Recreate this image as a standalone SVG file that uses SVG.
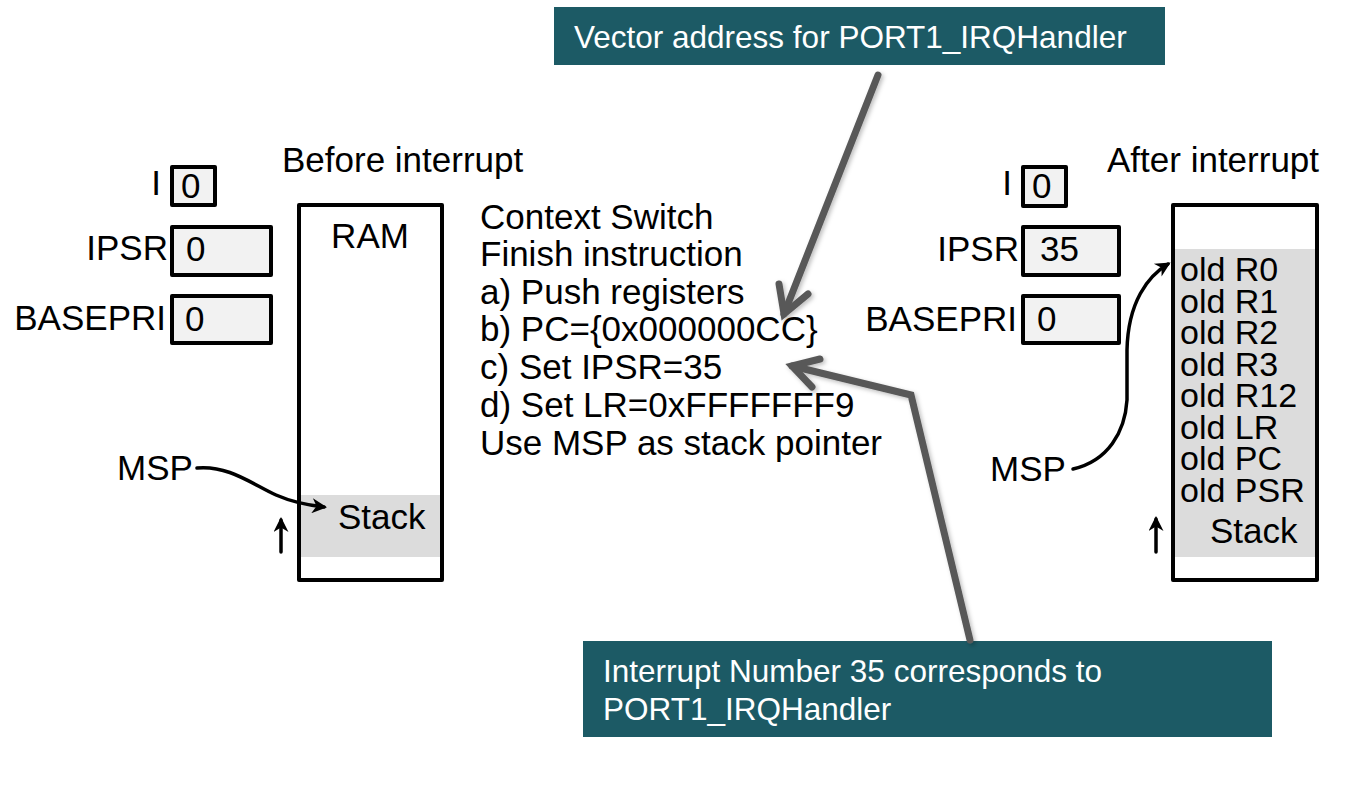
<svg xmlns="http://www.w3.org/2000/svg" width="1351" height="787" viewBox="0 0 1351 787">
  <style>
    text { font-family: "Liberation Sans", Arial, sans-serif; fill: #000; }
    .t35 { font-size: 35px; }
    .lbl { font-size: 35px; text-anchor: end; }
    .stack-row { font-size: 34px; }
    .reg { fill: #f2f2f2; stroke: #000; stroke-width: 4; stroke-linejoin: round; }
    .mem { fill: #fff; stroke: #000; stroke-width: 4; stroke-linejoin: round; }
    .stk { fill: #dcdcdc; }
    .ptr { fill: none; stroke: #000; stroke-width: 3.5; stroke-linecap: round; }
    .callout { fill: #1c5a65; }
    .ctext { font-size: 31.5px; fill: #fff; }
    .big { fill: none; stroke: #595959; stroke-width: 7; stroke-linecap: round; stroke-linejoin: miter; }
  </style>
  <defs>
    <!-- notched black arrowhead for stack pointers -->
    <marker id="tipS" viewBox="0 0 10 10" refX="8" refY="5" markerWidth="17" markerHeight="15" orient="auto" markerUnits="userSpaceOnUse">
      <path d="M0,0 L10,5 L0,10 L3,5 Z" fill="#000"/>
    </marker>
    <filter id="soft" x="-20%" y="-20%" width="140%" height="140%">
      <feDropShadow dx="2" dy="2" stdDeviation="2" flood-color="#000" flood-opacity="0.25"/>
    </filter>
  </defs>

  <!-- Before interrupt -->
  <g id="before">
    <text class="t35" x="282" y="172">Before interrupt</text>
    <text class="lbl" x="161" y="195">I</text>
    <rect class="reg" x="172" y="167" width="43" height="38"/>
    <text class="t35" x="181" y="198">0</text>
    <text class="lbl" x="168" y="260">IPSR</text>
    <rect class="reg" x="172" y="227" width="99" height="48"/>
    <text class="t35" x="186" y="261">0</text>
    <text class="lbl" x="166" y="330">BASEPRI</text>
    <rect class="reg" x="172" y="296" width="99" height="47"/>
    <text class="t35" x="185" y="331">0</text>
    <rect class="mem" x="299" y="205" width="143" height="375"/>
    <rect class="stk" x="301" y="495" width="139" height="62"/>
    <text class="t35" x="370" y="248" text-anchor="middle">RAM</text>
    <text class="t35" x="338" y="529">Stack</text>
    <text class="t35" x="117" y="480">MSP</text>
  </g>

  <!-- Context switch steps -->
  <g id="steps">
    <text class="t35" x="480" y="229">Context Switch</text>
    <text class="t35" x="480" y="266">Finish instruction</text>
    <text class="t35" x="480" y="304">a) Push registers</text>
    <text class="t35" x="480" y="341">b) PC={0x000000CC}</text>
    <text class="t35" x="480" y="379">c) Set IPSR=35</text>
    <text class="t35" x="480" y="417">d) Set LR=0xFFFFFFF9</text>
    <text class="t35" x="480" y="455">Use MSP as stack pointer</text>
  </g>

  <!-- After interrupt -->
  <g id="after">
    <text class="t35" x="1107" y="172">After interrupt</text>
    <text class="lbl" x="1012" y="195">I</text>
    <rect class="reg" x="1023" y="167" width="43" height="39"/>
    <text class="t35" x="1032" y="198">0</text>
    <text class="lbl" x="1019" y="261">IPSR</text>
    <rect class="reg" x="1023" y="227" width="96" height="48"/>
    <text class="t35" x="1040" y="261">35</text>
    <text class="lbl" x="1017" y="331">BASEPRI</text>
    <rect class="reg" x="1023" y="296" width="96" height="47"/>
    <text class="t35" x="1037" y="331">0</text>
    <rect class="mem" x="1173" y="205" width="144" height="375"/>
    <rect class="stk" x="1175" y="249" width="140" height="308"/>
    <text class="stack-row" x="1180" y="281">old R0</text>
    <text class="stack-row" x="1180" y="312.5">old R1</text>
    <text class="stack-row" x="1180" y="344">old R2</text>
    <text class="stack-row" x="1180" y="375.5">old R3</text>
    <text class="stack-row" x="1180" y="407">old R12</text>
    <text class="stack-row" x="1180" y="438.5">old LR</text>
    <text class="stack-row" x="1180" y="470">old PC</text>
    <text class="stack-row" x="1180" y="501.5">old PSR</text>
    <text class="t35" x="1210" y="543">Stack</text>
    <text class="t35" x="990" y="481">MSP</text>
  </g>

  <!-- Callouts -->
  <g id="callout-vector">
    <rect class="callout" x="554" y="7" width="611" height="58"/>
    <text class="ctext" x="574" y="48">Vector address for PORT1_IRQHandler</text>
  </g>
  <g id="callout-number">
    <rect class="callout" x="583" y="641" width="689" height="96"/>
    <text class="ctext" x="603" y="682">Interrupt Number 35 corresponds to</text>
    <text class="ctext" x="603" y="720">PORT1_IRQHandler</text>
  </g>

  <g id="connectors">
    <!-- stack pointers -->
    <path class="ptr" d="M197,468 C228,465 252,484 276,495 C292,502 306,505 324,507" marker-end="url(#tipS)"/>
    <path class="ptr" d="M1073,469 C1108,461 1125,432 1127,400 L1127,350 C1128,302 1148,276 1168,264" marker-end="url(#tipS)"/>
    <!-- stack growth direction -->
    <path class="ptr" d="M281,552 L281,520" marker-end="url(#tipS)"/>
    <path class="ptr" d="M1156,552 L1156,519" marker-end="url(#tipS)"/>
    <!-- callout pointers -->
    <g filter="url(#soft)">
      <path class="big" d="M878,75 L784,314"/>
      <path class="big" d="M779,284 L784,314 L808,294"/>
      <path class="big" d="M970,640 L911,395 L792,366"/>
      <path class="big" d="M820,359 L792,366 L812,387"/>
    </g>
  </g>
</svg>
